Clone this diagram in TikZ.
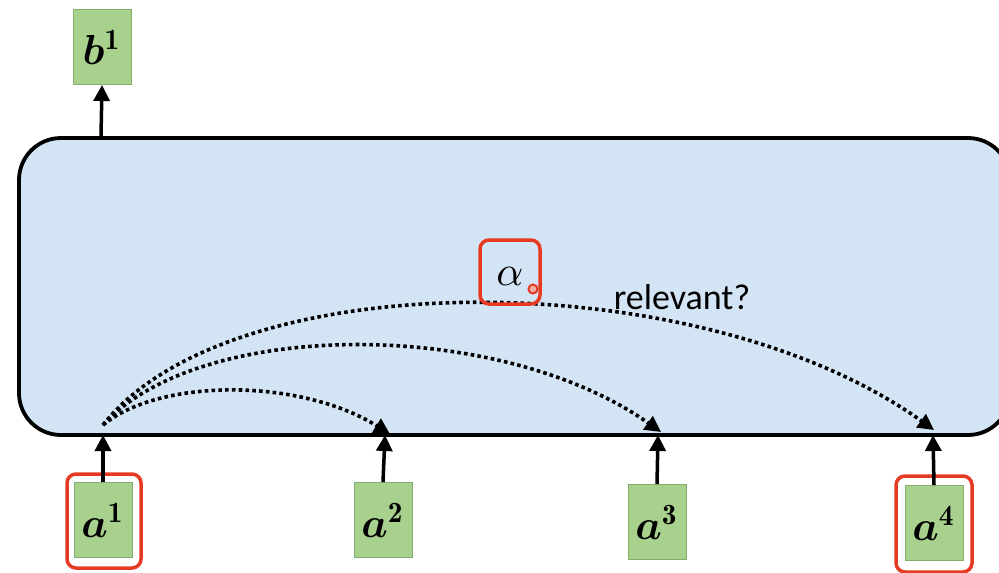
\documentclass[tikz,border=0pt]{standalone}
\usepackage{fontspec}
\usepackage{amsmath,bm}
\newfontfamily\carl{Carlito}
\usetikzlibrary{arrows.meta}
\definecolor{panel}{HTML}{D3E4F4}
\definecolor{gfill}{HTML}{A9D18E}
\definecolor{gline}{HTML}{84AD6C}
\definecolor{hl}{HTML}{E63A22}
\newcommand{\bigvec}[2]{\scalebox{4.2}{$\bm{#1}^{\mathbf{#2}}$}}
\tikzset{
  vec/.style={draw=gline, line width=1pt, fill=gfill, minimum width=58pt, minimum height=75pt, inner sep=0pt},
  hlbox/.style={draw=hl, line width=3.5pt, rounded corners=9pt, fill=none},
  inarrow/.style={line width=3.5pt, -{Triangle[length=16pt,width=16pt]}},
  attn/.style={line width=3.6pt, dash pattern=on 3.6pt off 3.2pt, -{Triangle[length=16pt,width=16pt]}},
}
\begin{document}
\begin{tikzpicture}[x=1pt,y=-1pt]
\useasboundingbox (0,0) rectangle (999,573);
% panel
\draw[line width=3.8pt, fill=panel, rounded corners=42pt] (19,138) rectangle (1010,435);
\node[coordinate] (ptop) at (101,136) {};
% vectors
\node[vec] (b1) at (102,47) {\bigvec{b}{1}};
\node[vec] (a1) at (103,520) {\bigvec{a}{1}};
\node[vec] (a2) at (383,520) {\bigvec{a}{2}};
\node[vec] (a3) at (657,522) {\bigvec{a}{3}};
\node[vec] (a4) at (934,523) {\bigvec{a}{4}};
% highlight frames
\node[hlbox, minimum width=74pt, minimum height=94pt] (h1) at (104,521) {};
\node[hlbox, minimum width=76pt, minimum height=96pt] (h4) at (934,524) {};
% arrows into panel
\draw[inarrow] (ptop) -- (b1.south);
\node[coordinate] (e1) at (103,435) {};
\node[coordinate] (e2) at (385,435) {};
\node[coordinate] (e3) at (658,435) {};
\node[coordinate] (e4) at (933,435) {};
\draw[inarrow] (a1.north) -- (e1);
\draw[inarrow] (a2.north) -- (e2);
\draw[inarrow] (a3.north) -- (e3);
\draw[inarrow] (a4.north) -- (e4);
% attention curves
\node[coordinate] (s) at (103,425) {};
\node[coordinate] (t2) at (390,434) {};
\node[coordinate] (t3) at (661,432) {};
\node[coordinate] (t4) at (934,430) {};
\draw[attn] (s) .. controls (160,378) and (300,378) .. (t2);
\draw[attn] (s) .. controls (200,318) and (500,318) .. (t3);
\draw[attn] (s) .. controls (230,262) and (700,262) .. (t4);
% alpha
\node[hlbox, minimum width=60pt, minimum height=64pt] (al) at (510,272) {};
\node (alt) at (510,276) {\scalebox{4.2}{$\alpha$}};
\node[circle, draw=hl, fill=hl!40, line width=2pt, minimum size=9pt, inner sep=0pt] (cur) at (533,289) {};
\node[font=\carl\fontsize{36}{40}\selectfont] (rel) at (682,297) {relevant?};
\end{tikzpicture}
\end{document}
